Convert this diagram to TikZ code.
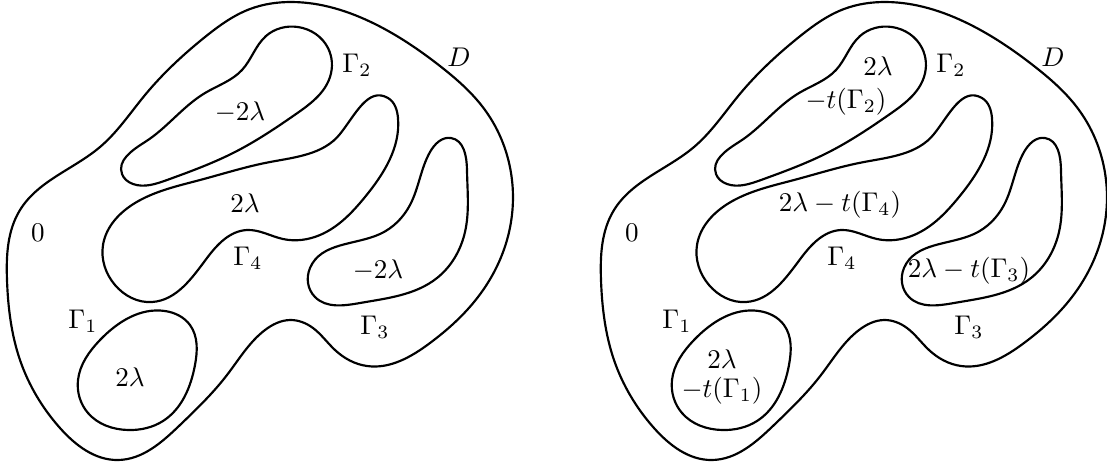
\documentclass[tikz,border=0pt]{standalone}
\usepackage{amsmath}
\usepackage{tikz}
\usetikzlibrary{hobby}

\tikzset{
  bdry/.style={line width=0.8pt, line join=round},
  lab/.style={inner sep=0.5pt}
}

% the domain D with the four curves, in pixel units (y downwards)
\newcommand{\drawDomain}{%
  % outer boundary D
  \draw[bdry] plot[closed hobby] coordinates {
    (292,2) (375,24) (440,66) (485,110) (512,180) (507,240) (478,297)
    (430,343) (367,366) (335,350) (313,328) (290,320) (265,330)
    (227,375) (180,425) (118,460) (60,428) (20,360) (7,280) (20,210)
    (100,147) (145,95) (205,37) (250,9)};
  % Gamma_2
  \draw[bdry] plot[closed hobby] coordinates {
    (298,27) (328,48) (330,77) (296,114) (235,152) (167,180) (133,184)
    (122,174) (145,142) (205,93) (242,70) (266,36)};
  % Gamma_4
  \draw[bdry] plot[closed hobby] coordinates {
    (388,98) (398,118) (365,197) (320,235) (283,239) (247,230)
    (207,258) (152,302) (115,285) (103,245) (135,203) (200,180)
    (270,162) (340,134)};
  % Gamma_3
  \draw[bdry] plot[closed hobby] coordinates {
    (451,138) (467,170) (465,232) (437,278) (360,303) (315,297)
    (310,268) (380,234) (410,205) (430,152)};
  % Gamma_1
  \draw[bdry] plot[closed hobby] coordinates {
    (165,311) (190,325) (195,365) (163,421) (128,430) (88,413)
    (78,380) (100,340)};
  % labels of the curves
  \node[lab] (D)  at (459,57)  {$D$};
  \node[lab] (G2) at (357,65)  {$\Gamma_2$};
  \node[lab] (z)  at (38,233)  {$0$};
  \node[lab] (G4) at (248,258) {$\Gamma_4$};
  \node[lab] (G1) at (83,321)  {$\Gamma_1$};
  \node[lab] (G3) at (375,327) {$\Gamma_3$};
}

\begin{document}
\begin{tikzpicture}[x=0.013cm, y=-0.013cm]
    \useasboundingbox (0,0) rectangle (1107,465);

    % Gauche: valeurs +-2 lambda
    \begin{scope}[name prefix=l-]
        \drawDomain
        \node[lab] (v2) at (240,112) {$-2\lambda$};
        \node[lab] (v4) at (245,203) {$2\lambda$};
        \node[lab] (v3) at (378,270) {$-2\lambda$};
        \node[lab] (v1) at (130,377) {$2\lambda$};
    \end{scope}

    % Droite: valeurs corrigees
    \begin{scope}[shift={(594,0)}, name prefix=r-]
        \drawDomain
        \node[lab] (v2a) at (284,66)  {$2\lambda$};
        \node[lab] (v2b) at (252,102) {$-t(\Gamma_2)$};
        \node[lab] (v4)  at (246,205) {$2\lambda-t(\Gamma_4)$};
        \node[lab] (v3)  at (375,271) {$2\lambda-t(\Gamma_3)$};
        \node[lab] (v1a) at (128,359) {$2\lambda$};
        \node[lab] (v1b) at (128,391) {$-t(\Gamma_1)$};
    \end{scope}
\end{tikzpicture}
\end{document}
